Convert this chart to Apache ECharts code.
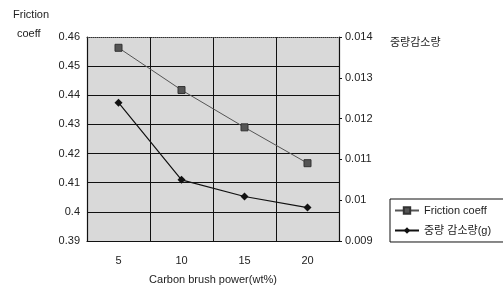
<!DOCTYPE html>
<html>
<head>
<meta charset="utf-8">
<title></title>
<script src="https://cdn.jsdelivr.net/npm/echarts@6/dist/echarts.min.js"></script>
</head>
<body style="margin:0;background:#fff">
<div id="main" style="width:503px;height:297px;"></div>
<script type="text/javascript">
var categories = ['5', '10', '15', '20'];
var frictionCoeff = [0.4563, 0.4418, 0.429, 0.4167];
var weightLoss = [0.01239, 0.0105, 0.01009, 0.00982];
var leftTicks = { min: 0.39, max: 0.46, interval: 0.01 };
var rightTicks = { min: 0.009, max: 0.014, interval: 0.001 };

var font = "'Liberation Sans Narrow', 'Liberation Sans', Arial, 'Noto Sans CJK KR', sans-serif";
var kfont = "'Noto Sans CJK KR', sans-serif";

var myChart = echarts.init(document.getElementById('main'));
myChart.setOption({
	animation: false,
	textStyle: { fontFamily: font, color: '#222' },
	grid: {
		left: 87, right: 164, top: 37, bottom: 56,
		show: true, backgroundColor: '#d9d9d9', borderWidth: 0
	},
	graphic: [
		{ type: 'text', left: 13, top: 9, style: { text: 'Friction', font: '11px ' + font, fill: '#222' } },
		{ type: 'text', left: 17, top: 28, style: { text: 'coeff', font: '11px ' + font, fill: '#222' } },
		{ type: 'text', left: 390, top: 36, style: { text: '중량감소량', font: '11px ' + kfont, fill: '#222' } }
	],
	legend: {
		orient: 'vertical',
		left: 390, top: 199,
		width: 120,
		padding: [6, 20, 6, 4],
		itemGap: 9,
		itemWidth: 24, itemHeight: 8,
		borderColor: '#111', borderWidth: 1,
		textStyle: { fontSize: 11, fontFamily: font, color: '#222' },
		data: ['Friction coeff', '중량 감소량(g)']
	},
	xAxis: [{
		type: 'category',
		data: categories,
		boundaryGap: true,
		name: 'Carbon brush power(wt%)',
		nameLocation: 'middle',
		nameGap: 33,
		nameTextStyle: { fontSize: 11, fontFamily: font, color: '#222' },
		axisLine: { lineStyle: { color: '#111', width: 1.2 } },
		axisTick: { show: false },
		axisLabel: { fontSize: 11, margin: 14, color: '#222' },
		splitLine: { show: true, lineStyle: { color: '#111', width: 1 } }
	}, {
		type: 'category',
		data: categories,
		position: 'top',
		axisLine: { lineStyle: { color: '#333', type: 'dotted', width: 1 } },
		axisTick: { show: false },
		axisLabel: { show: false }
	}],
	yAxis: [{
		type: 'value',
		min: leftTicks.min, max: leftTicks.max, interval: leftTicks.interval,
		axisLine: { show: true, lineStyle: { color: '#111', width: 1.2 } },
		axisTick: { show: false },
		axisLabel: { fontSize: 11, margin: 7, color: '#222', formatter: function (v) { return String(+v.toFixed(2)); } },
		splitLine: { show: true, showMaxLine: false, lineStyle: { color: '#111', width: 1 } }
	}, {
		type: 'value',
		min: rightTicks.min, max: rightTicks.max, interval: rightTicks.interval,
		position: 'right',
		axisLine: { show: true, lineStyle: { color: '#111', width: 1.2 } },
		axisTick: { show: true, inside: false, length: 3, lineStyle: { color: '#111' } },
		axisLabel: { fontSize: 11, margin: 6, color: '#222', formatter: function (v) { return String(+v.toFixed(3)); } },
		splitLine: { show: false }
	}],
	series: [{
		name: 'Friction coeff',
		type: 'line',
		yAxisIndex: 0,
		data: frictionCoeff,
		symbol: 'rect',
		symbolSize: 7,
		itemStyle: { color: '#555', borderColor: '#333', borderWidth: 1 },
		lineStyle: { color: '#555', width: 1 }
	}, {
		name: '중량 감소량(g)',
		type: 'line',
		yAxisIndex: 1,
		data: weightLoss,
		symbol: 'diamond',
		symbolSize: 8,
		itemStyle: { color: '#111' },
		lineStyle: { color: '#111', width: 1.2 }
	}]
});
</script>
</body>
</html>
